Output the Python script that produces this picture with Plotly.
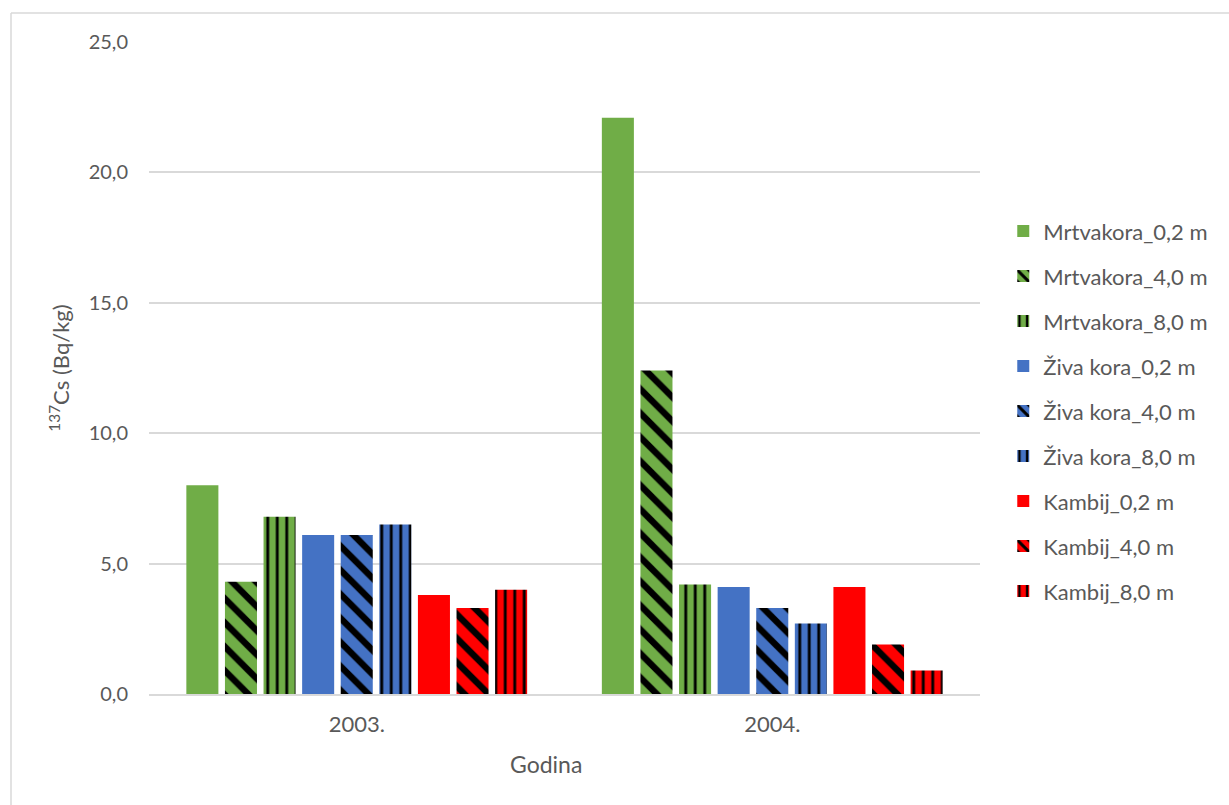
import plotly.graph_objects as go

# Years on the category axis
years = ["2003.", "2004."]

# 137Cs activity (Bq/kg) per tissue and sampling height
series_names = [
    "Mrtvakora_0,2 m", "Mrtvakora_4,0 m", "Mrtvakora_8,0 m",
    "Živa kora_0,2 m", "Živa kora_4,0 m", "Živa kora_8,0 m",
    "Kambij_0,2 m", "Kambij_4,0 m", "Kambij_8,0 m",
]
mrtvakora_02 = [8.0, 22.1]
mrtvakora_40 = [4.3, 12.4]
mrtvakora_80 = [6.8, 4.2]
ziva_02 = [6.1, 4.1]
ziva_40 = [6.1, 3.3]
ziva_80 = [6.5, 2.7]
kambij_02 = [3.8, 4.1]
kambij_40 = [3.3, 1.9]
kambij_80 = [4.0, 0.9]

series_values = [
    mrtvakora_02, mrtvakora_40, mrtvakora_80,
    ziva_02, ziva_40, ziva_80,
    kambij_02, kambij_40, kambij_80,
]

GREEN, BLUE, RED = "#70AD47", "#4472C4", "#FF0000"
colors = [GREEN] * 3 + [BLUE] * 3 + [RED] * 3
shapes = ["", "\\", "|"] * 3
TEXT = "#595959"
GRID = "#D9D9D9"
FONT = "Lato, 'Open Sans', sans-serif"

fig = go.Figure()
for i, (name, vals) in enumerate(zip(series_names, series_values)):
    shp = shapes[i]
    if shp == "":
        pattern = dict(shape="")
    elif shp == "|":
        pattern = dict(shape="|", fgcolor="black", fgopacity=1, bgcolor=colors[i],
                       size=9.5, solidity=0.3, fillmode="overlay")
    else:
        pattern = dict(shape="\\", fgcolor="black", fgopacity=1, bgcolor=colors[i],
                       size=17, solidity=0.38, fillmode="overlay")
    fig.add_trace(go.Bar(
        x=years, y=vals, name=name, legendgroup=name,
        marker=dict(color=colors[i], line=dict(width=0), pattern=pattern),
    ))

fig.update_layout(
    width=1229, height=805,
    margin=dict(l=149, r=249, t=42, b=111),
    paper_bgcolor="white", plot_bgcolor="white",
    separators=",.",
    barmode="group", bargap=0.164, bargroupgap=0.17,
    font=dict(family=FONT, color=TEXT, size=21),
    showlegend=True,
    legend=dict(
        x=1.028, y=0.742, xanchor="left", yanchor="top",
        font=dict(size=22, color=TEXT), tracegroupgap=13.4,
        traceorder="grouped", bgcolor="rgba(0,0,0,0)",
    ),
    xaxis=dict(
        showgrid=False, showline=True, linecolor=GRID, linewidth=1.5,
        ticks="", tickfont=dict(size=22, color=TEXT), ticklabelstandoff=10,
    ),
    yaxis=dict(
        range=[0, 25], dtick=5, tickformat=".1f",
        showgrid=True, gridcolor=GRID, gridwidth=1.5,
        zeroline=False, showline=False, ticks="",
        tickfont=dict(size=20, color=TEXT), ticklabelstandoff=20,
        title=dict(text="<sup>137</sup>Cs (Bq/kg)",
                   font=dict(size=22, color=TEXT), standoff=12),
    ),
    annotations=[
        dict(text="Godina", xref="paper", yref="paper",
             x=0.478, y=-0.107, xanchor="center", yanchor="middle",
             showarrow=False, font=dict(size=23, color=TEXT)),
    ],
    shapes=[
        dict(type="line", xref="paper", yref="paper",
             x0=(11 - 149) / 831, x1=(1229 - 149) / 831,
             y0=(805 - 13 - 111) / 652, y1=(805 - 13 - 111) / 652,
             line=dict(color=GRID, width=1.5)),
        dict(type="line", xref="paper", yref="paper",
             x0=(11 - 149) / 831, x1=(11 - 149) / 831,
             y0=(805 - 13 - 111) / 652, y1=-111 / 652,
             line=dict(color=GRID, width=1.5)),
    ],
)

fig.write_html("out.html")
